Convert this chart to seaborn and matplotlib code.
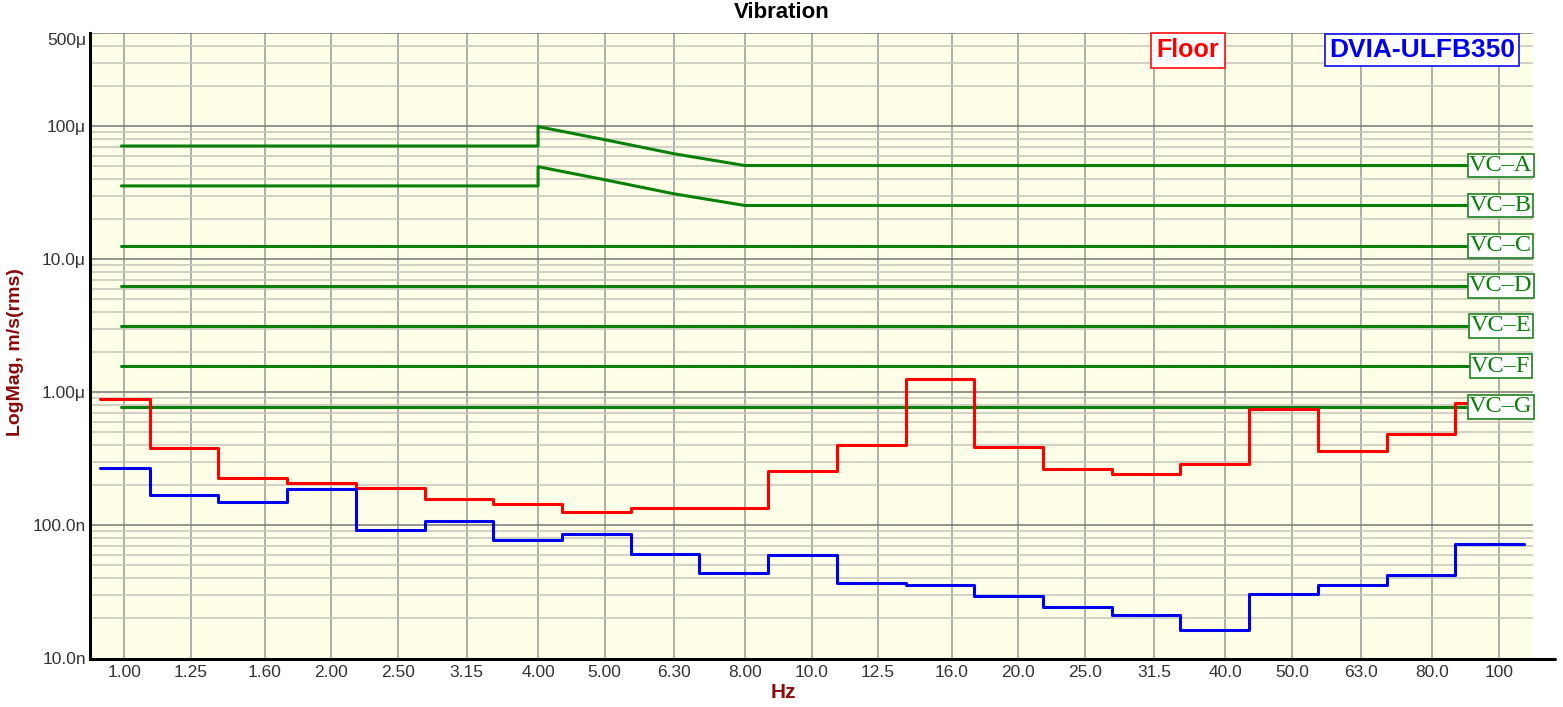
import numpy as np
import matplotlib
matplotlib.use("Agg")
import matplotlib.pyplot as plt
import seaborn as sns
from matplotlib.ticker import NullLocator

# ---------------- data ----------------
band_hz = [1.0, 1.25, 1.6, 2.0, 2.5, 3.15, 4.0, 5.0, 6.3, 8.0, 10.0, 12.5,
           16.0, 20.0, 25.0, 31.5, 40.0, 50.0, 63.0, 80.0, 100.0]
band_labels = ['1.00', '1.25', '1.60', '2.00', '2.50', '3.15', '4.00', '5.00',
               '6.30', '8.00', '10.0', '12.5', '16.0', '20.0', '25.0', '31.5',
               '40.0', '50.0', '63.0', '80.0', '100']

floor_ms = [0.886e-6, 0.382e-6, 0.226e-6, 0.209e-6, 0.192e-6, 0.158e-6,
            0.145e-6, 0.127e-6, 0.135e-6, 0.135e-6, 0.254e-6, 0.400e-6,
            1.25e-6, 0.391e-6, 0.266e-6, 0.244e-6, 0.290e-6, 0.750e-6,
            0.359e-6, 0.487e-6, 0.836e-6]
dvia_ms = [0.270e-6, 0.169e-6, 0.150e-6, 0.188e-6, 91.6e-9, 107e-9,
           77.6e-9, 86e-9, 60.9e-9, 44.1e-9, 59.8e-9, 37.1e-9,
           35.6e-9, 29.3e-9, 24.2e-9, 21.2e-9, 16.4e-9, 30.7e-9,
           35.6e-9, 42.4e-9, 72.4e-9]

vc_names = ['VC\u2013A', 'VC\u2013B', 'VC\u2013C', 'VC\u2013D', 'VC\u2013E',
            'VC\u2013F', 'VC\u2013G']
vc_flat_ms = [50.5e-6, 25.3e-6, 12.6e-6, 6.3e-6, 3.15e-6, 1.57e-6, 0.78e-6]
vc_curve_hz = [0.99, 4.0, 4.0, 5.0, 6.3, 8.0, 112.0]
vc_a_ms = [70.8e-6, 70.8e-6, 99e-6, 79e-6, 62e-6, 50.5e-6, 50.5e-6]
vc_b_ms = [35.5e-6, 35.5e-6, 49.5e-6, 39.5e-6, 31e-6, 25.3e-6, 25.3e-6]
vc_line_hz = [0.99, 112.0]

y_major = [1e-8, 1e-7, 1e-6, 1e-5, 1e-4, 5e-4]
y_major_labels = ['10.0n', '100.0n', '1.00\u03bc', '10.0\u03bc', '100\u03bc', '500\u03bc']

# ---------------- style ----------------
sns.set_style("white")
plt.rcParams['font.family'] = ['Liberation Sans', 'DejaVu Sans']

W, H = 1563, 707
fig = plt.figure(figsize=(W / 100, H / 100), dpi=100)
L, R, T, B = 90, 1533, 33, 658.5
ax = fig.add_axes([L / W, 1 - B / H, (R - L) / W, (B - T) / H])
ax.set_facecolor('#FFFFE8')
ax.set_xscale('log')
ax.set_yscale('log')

# band step edges (log-spaced 1/3 octave bands)
n = np.arange(len(band_hz))
exact = 10 ** (n / 10.0)
lo = exact * 10 ** -0.063
lo[0] = 10 ** -0.035
step_x = np.append(lo, exact[-1] * 10 ** 0.037)

green = '#0a800a'
for vals, col in [(floor_ms, '#ff0000'), (dvia_ms, '#0000ee')]:
    sns.lineplot(x=step_x, y=np.append(vals, vals[-1]), ax=ax, color=col,
                 lw=2.2, drawstyle='steps-post', estimator=None, sort=False,
                 zorder=4)

sns.lineplot(x=vc_curve_hz, y=vc_a_ms, ax=ax, color=green, lw=2.2,
             estimator=None, sort=False, zorder=3)
sns.lineplot(x=vc_curve_hz, y=vc_b_ms, ax=ax, color=green, lw=2.2,
             estimator=None, sort=False, zorder=3)
for v in vc_flat_ms[2:]:
    sns.lineplot(x=vc_line_hz, y=[v, v], ax=ax, color=green, lw=2.2,
                 estimator=None, sort=False, zorder=3)

ax.set_xlim(10 ** -0.05, 10 ** 2.05)
ax.set_ylim(1e-8, 5e-4)

# ticks
ax.set_xticks(band_hz)
ax.set_xticklabels(band_labels)
ax.xaxis.set_minor_locator(NullLocator())
ax.set_yticks(y_major)
ax.set_yticklabels(y_major_labels)
y_minor = [k * 10.0 ** d for d in range(-8, -3) for k in range(2, 10)
           if k * 10.0 ** d < 5e-4]
ax.set_yticks(y_minor, minor=True)
ax.yaxis.set_minor_formatter(plt.NullFormatter())
ax.get_yticklabels()[-1].set_va('top')

ax.tick_params(axis='x', which='major', direction='in', length=6, width=1.5,
               color='black', labelsize=12.5, labelcolor='#333333', pad=5)
ax.tick_params(axis='y', which='major', direction='in', length=8.5, width=1.5,
               color='black', labelsize=12.5, labelcolor='#333333', pad=3)
ax.tick_params(axis='y', which='minor', direction='in', length=6, width=1.5,
               color='black')

ax.set_axisbelow(True)
ax.grid(which='major', axis='x', color='#a0a0a0', lw=1.2)
ax.grid(which='major', axis='y', color='#808080', lw=1.2)
ax.grid(which='minor', axis='y', color='#c8c8c0', lw=1.2)

for s in ['top', 'right']:
    ax.spines[s].set_visible(False)
for s in ['left', 'bottom']:
    ax.spines[s].set_color('black')
    ax.spines[s].set_linewidth(2.2)
ax.plot([1, 1 + 22 / (R - L)], [0, 0], transform=ax.transAxes, color='black',
        lw=2.2, clip_on=False)

ax.set_xlabel('')
ax.set_ylabel('')

# VC labels
vc_x = ((1466 + 1535.7) / 2 - L) / (R - L)
for name, v in zip(vc_names, vc_flat_ms):
    ax.text(vc_x, v, name, transform=ax.get_yaxis_transform(), ha='center',
            va='center', fontsize=17.5, color=green,
            family=['Liberation Serif', 'DejaVu Serif'], zorder=6, clip_on=False,
            bbox=dict(boxstyle='square,pad=0.06', fc='white', ec='#2e8b2e', lw=1.3))

# legend boxes
ax.text((1188 - L) / (R - L), (B - 50) / (B - T), 'Floor', transform=ax.transAxes,
        ha='center', va='center', fontsize=18, fontweight='bold', color='#ff0000',
        zorder=6, bbox=dict(boxstyle='square,pad=0.22', fc='white', ec='#ff2020', lw=1.3))
ax.text((1422 - L) / (R - L), (B - 50) / (B - T), 'DVIA-ULFB350', transform=ax.transAxes,
        ha='center', va='center', fontsize=19, fontweight='bold', color='#0000ee',
        zorder=6, bbox=dict(boxstyle='square,pad=0.17', fc='white', ec='#2020ee', lw=1.3))

# titles
fig.text(0.5, 1 - 12 / H, 'Vibration', ha='center', va='center', fontsize=16,
         fontweight='bold', color='black')
fig.text(783 / W, 1 - 692 / H, 'Hz', ha='center', va='center', fontsize=15,
         fontweight='bold', color='#8b0a0a')
fig.text(16 / W, 1 - 352.5 / H, 'LogMag, m/s(rms)', ha='center', va='center',
         rotation=90, fontsize=14, fontweight='bold', color='#8b0a0a')

fig.savefig('out.png', dpi=100)
